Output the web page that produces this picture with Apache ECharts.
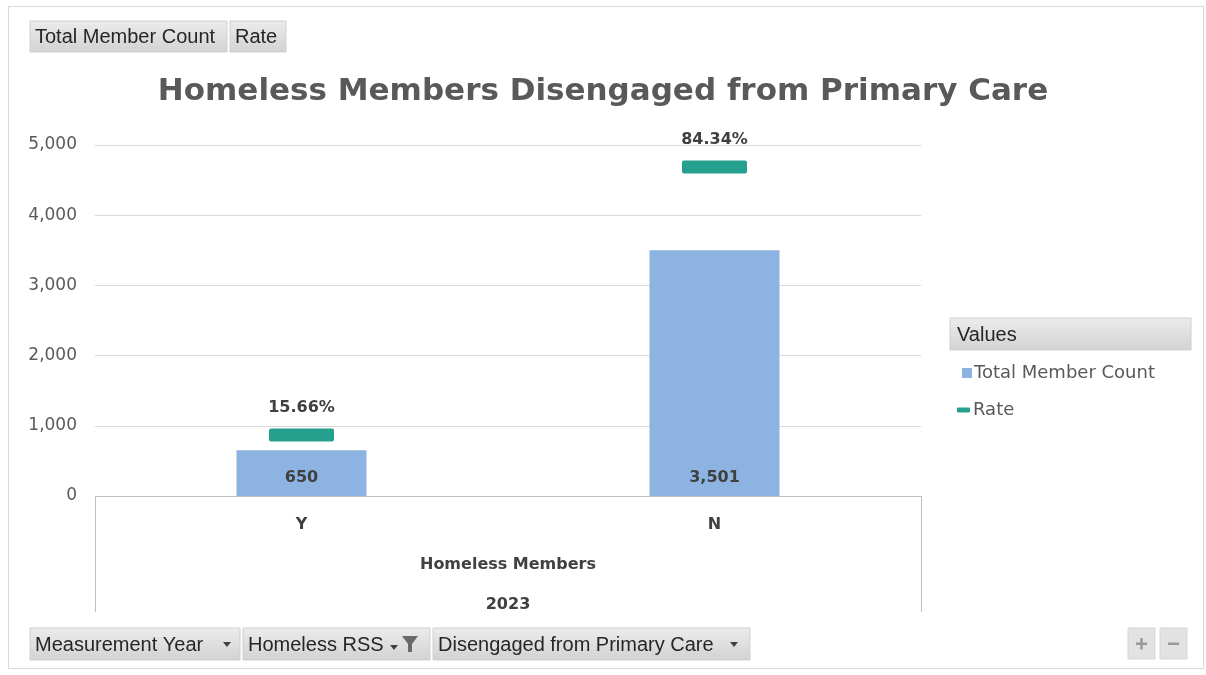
<!DOCTYPE html>
<html>
<head>
<meta charset="utf-8">
<script src="https://cdn.jsdelivr.net/npm/echarts@6/dist/echarts.min.js"></script>
<style>
  html, body { margin: 0; padding: 0; background: #ffffff; }
  #chart { width: 1206px; height: 675px; }
</style>
</head>
<body>
<div id="chart"></div>
<script>
// Pivot chart data
const categories = ['Y', 'N'];
const groupLabel = ['Homeless Members'];
const yearLabel = ['2023'];
const memberCounts = [650, 3501];
const rates = [0.1566, 0.8434];
const countTicks = { min: 0, max: 5000, interval: 1000 };

const chartFont = 'DejaVu Sans';
const buttonFont = 'Liberation Sans, sans-serif';
const greyText = '#595959';
const darkText = '#404040';

// Excel-like pivot field button
function fieldButton(x, y, w, h, text, extra) {
  const children = [
    {
      type: 'rect',
      shape: { x: 0, y: 0, width: w, height: h },
      style: {
        fill: new echarts.graphic.LinearGradient(0, 0, 0, 1, [
          { offset: 0, color: '#ececec' },
          { offset: 1, color: '#d2d2d2' }
        ]),
        stroke: '#cfcfcf',
        lineWidth: 1
      }
    },
    {
      type: 'text',
      x: 5, y: h / 2 + 1,
      style: {
        text: text,
        font: '20px ' + buttonFont,
        fill: '#262626',
        verticalAlign: 'middle'
      }
    }
  ];
  if (extra) children.push(...extra);
  return { type: 'group', x: x, y: y, children: children };
}

function dropArrow(x, y) {
  return {
    type: 'polygon',
    shape: { points: [[x, y], [x + 8, y], [x + 4, y + 5]] },
    style: { fill: '#404040' }
  };
}

const chart = echarts.init(document.getElementById('chart'), null, { renderer: 'canvas' });

chart.setOption({
  backgroundColor: '#ffffff',
  animation: false,
  title: {
    text: 'Homeless Members Disengaged from Primary Care',
    left: 'center',
    top: 71,
    textStyle: {
      fontFamily: chartFont,
      fontWeight: 'bold',
      fontSize: 31,
      color: greyText
    }
  },
  legend: [
    {
      data: ['Total Member Count'],
      orient: 'vertical',
      left: 957,
      top: 359,
      icon: 'rect',
      itemWidth: 10,
      itemHeight: 10,
      itemGap: 4,
      textStyle: { fontFamily: chartFont, fontSize: 18, color: greyText, padding: [0, 0, 0, -3] }
    },
    {
      data: ['Rate'],
      orient: 'vertical',
      left: 952,
      top: 396,
      icon: 'roundRect',
      itemWidth: 13,
      itemHeight: 5,
      itemGap: 4,
      textStyle: { fontFamily: chartFont, fontSize: 18, color: greyText, padding: [0, 0, 0, -2] }
    }
  ],
  grid: { left: 95, right: 285, top: 145, bottom: 179, containLabel: false },
  xAxis: [
    {
      type: 'category',
      data: categories,
      position: 'bottom',
      axisLine: { show: true, lineStyle: { color: '#bfbfbf', width: 1 } },
      axisTick: { show: false },
      axisLabel: {
        margin: 21, fontFamily: chartFont, fontSize: 16, fontWeight: 'bold', color: darkText
      }
    },
    {
      type: 'category',
      data: groupLabel,
      position: 'bottom',
      axisLine: { show: false },
      axisTick: { show: true, length: 116, lineStyle: { color: '#bfbfbf', width: 1 } },
      axisLabel: {
        margin: 61, fontFamily: chartFont, fontSize: 16, fontWeight: 'bold', color: darkText
      }
    },
    {
      type: 'category',
      data: yearLabel,
      position: 'bottom',
      axisLine: { show: false },
      axisTick: { show: false },
      axisLabel: {
        margin: 101, fontFamily: chartFont, fontSize: 16, fontWeight: 'bold', color: darkText
      }
    }
  ],
  yAxis: [
    {
      type: 'value',
      min: countTicks.min,
      max: countTicks.max,
      interval: countTicks.interval,
      axisLine: { show: false },
      axisTick: { show: false },
      splitLine: { lineStyle: { color: '#d9d9d9', width: 1 } },
      axisLabel: {
        margin: 18,
        fontFamily: chartFont,
        fontSize: 17,
        color: greyText,
        formatter: v => v.toLocaleString('en-US')
      }
    },
    {
      type: 'value',
      min: 0,
      max: 0.9,
      show: false,
      splitLine: { show: false }
    }
  ],
  series: [
    {
      name: 'Total Member Count',
      type: 'bar',
      data: memberCounts,
      xAxisIndex: 0,
      yAxisIndex: 0,
      barWidth: 130,
      itemStyle: { color: '#8db3e2' },
      label: {
        show: true,
        position: 'insideBottom',
        distance: 10,
        fontFamily: chartFont,
        fontSize: 16,
        fontWeight: 'bold',
        color: darkText,
        formatter: p => p.value.toLocaleString('en-US')
      },
      z: 2
    },
    {
      name: 'Rate',
      type: 'scatter',
      data: rates,
      xAxisIndex: 0,
      yAxisIndex: 1,
      symbol: 'path://M2,0 L63,0 Q65,0 65,2 L65,11 Q65,13 63,13 L2,13 Q0,13 0,11 L0,2 Q0,0 2,0 Z',
      symbolSize: [65, 13],
      itemStyle: { color: '#25a08f', opacity: 1 },
      label: {
        show: true,
        position: 'top',
        distance: 13,
        fontFamily: chartFont,
        fontSize: 16,
        fontWeight: 'bold',
        color: darkText,
        formatter: p => (p.value * 100).toFixed(2) + '%'
      },
      z: 3
    }
  ],
  graphic: [
    {
      type: 'rect',
      shape: { x: 8.5, y: 6.5, width: 1195, height: 662 },
      style: { fill: null, stroke: '#d9d9d9', lineWidth: 1 },
      z: -10
    },
    fieldButton(30, 21, 197, 31, 'Total Member Count'),
    fieldButton(230, 21, 56, 31, 'Rate'),
    {
      type: 'group', x: 950, y: 318,
      children: [
        {
          type: 'rect',
          shape: { x: 0, y: 0, width: 241, height: 32 },
          style: {
            fill: new echarts.graphic.LinearGradient(0, 0, 0, 1, [
              { offset: 0, color: '#ececec' },
              { offset: 1, color: '#d2d2d2' }
            ]),
            stroke: '#cfcfcf'
          }
        },
        {
          type: 'text', x: 7, y: 17,
          style: { text: 'Values', font: '20px ' + buttonFont, fill: '#262626', verticalAlign: 'middle' }
        }
      ]
    },
    fieldButton(30, 628, 210, 32, 'Measurement Year', [dropArrow(193, 14)]),
    fieldButton(243, 628, 187, 32, 'Homeless RSS', [
      dropArrow(147, 17),
      {
        type: 'polygon',
        shape: { points: [[159, 8], [175, 8], [169, 16], [169, 24], [165, 24], [165, 16]] },
        style: { fill: '#6a6a6a' }
      }
    ]),
    fieldButton(433, 628, 317, 32, 'Disengaged from Primary Care', [dropArrow(297, 14)]),
    {
      type: 'group', x: 1128, y: 628,
      children: [
        { type: 'rect', shape: { x: 0, y: 0, width: 27, height: 31 },
          style: { fill: '#e2e2e2', stroke: '#d6d6d6' } },
        { type: 'rect', shape: { x: 8, y: 14.5, width: 11, height: 2.5 }, style: { fill: '#999999' } },
        { type: 'rect', shape: { x: 12.25, y: 10, width: 2.5, height: 11.5 }, style: { fill: '#999999' } },
        { type: 'rect', shape: { x: 32, y: 0, width: 27, height: 31 },
          style: { fill: '#e2e2e2', stroke: '#d6d6d6' } },
        { type: 'rect', shape: { x: 40, y: 14.5, width: 11, height: 2.5 }, style: { fill: '#999999' } }
      ]
    }
  ]
});
</script>
</body>
</html>
